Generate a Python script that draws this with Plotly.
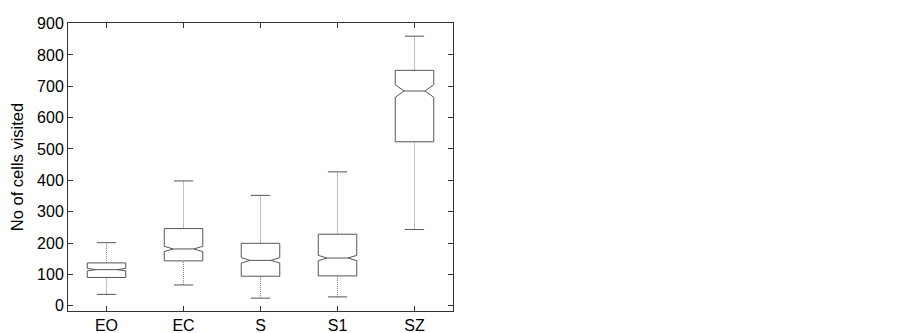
import plotly.graph_objects as go

categories = ["EO", "EC", "S", "S1", "SZ"]
positions = [1, 2, 3, 4, 5]
lower_whisker = [36, 66, 24, 28, 243]
q1 = [90, 143, 94, 95, 523]
median = [115, 181, 144.5, 152, 685]
q3 = [136.5, 246, 199, 228, 751]
upper_whisker = [201, 398, 352, 427, 860]
notch_half = [4, 8.5, 8.5, 8.5, 20]
y_ticks = [0, 100, 200, 300, 400, 500, 600, 700, 800, 900]

BOX_W = 0.5      # box width in category units
CAP_W = 0.25     # whisker cap width
INDENT = 0.23    # notch indent per side, fraction of box width
box_color = "#555555"

fig = go.Figure()

bx, by, mx, my = [], [], [], []
wx, wy, cx, cy = [], [], [], []
for p, lo, a, m, b, hi, n in zip(positions, lower_whisker, q1, median, q3,
                                  upper_whisker, notch_half):
    l, r = p - BOX_W / 2, p + BOX_W / 2
    li, ri = l + INDENT * BOX_W, r - INDENT * BOX_W
    bx += [l, r, r, ri, r, r, l, l, li, l, l, None]
    by += [a, a, m - n, m, m + n, b, b, m + n, m, m - n, a, None]
    mx += [li, ri, None]
    my += [m, m, None]
    wx += [p, p, None, p, p, None]
    wy += [b, hi, None, lo, a, None]
    cx += [p - CAP_W / 2, p + CAP_W / 2, None, p - CAP_W / 2, p + CAP_W / 2, None]
    cy += [hi, hi, None, lo, lo, None]

fig.add_trace(go.Scatter(x=wx, y=wy, mode="lines",
                         line=dict(color="#808080", width=1, dash="1px,1px"),
                         hoverinfo="skip", showlegend=False))
fig.add_trace(go.Scatter(x=cx, y=cy, mode="lines",
                         line=dict(color=box_color, width=1),
                         hoverinfo="skip", showlegend=False))
fig.add_trace(go.Scatter(x=bx, y=by, mode="lines",
                         line=dict(color=box_color, width=1),
                         hoverinfo="skip", showlegend=False))
fig.add_trace(go.Scatter(x=mx, y=my, mode="lines",
                         line=dict(color=box_color, width=1),
                         hoverinfo="skip", showlegend=False))

fig.update_layout(
    width=903, height=333,
    margin=dict(l=60, r=458, t=7, b=23),
    paper_bgcolor="white", plot_bgcolor="white",
    font=dict(family="Liberation Sans, Arial, sans-serif", size=16, color="black"),
)
fig.update_xaxes(
    range=[0.5, 5.5], tickvals=positions, ticktext=categories,
    ticks="inside", ticklen=5, tickcolor="#333", showline=True, linecolor="#333",
    linewidth=1, mirror="ticks", showgrid=False, zeroline=False,
)
fig.update_yaxes(
    range=[-17, 902], tickvals=y_ticks,
    ticks="inside", ticklen=5, tickcolor="#333", showline=True, linecolor="#333",
    linewidth=1, mirror="ticks", showgrid=False, zeroline=False,
    title=dict(text="No of cells visited", font=dict(size=16.5), standoff=9),
)

fig.write_html("out.html")
